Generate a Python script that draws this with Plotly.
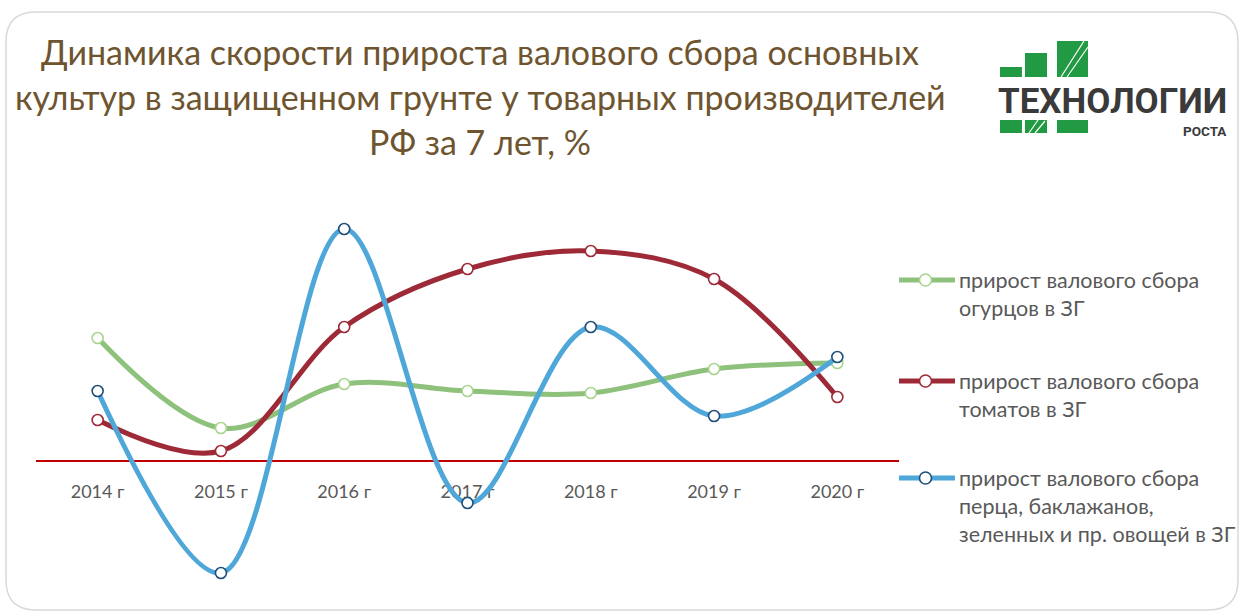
import plotly.graph_objects as go

# ---- data ----
years = ["2014 г", "2015 г", "2016 г", "2017 г", "2018 г", "2019 г", "2020 г"]
cucumbers = [12.3, 3.3, 7.7, 7.0, 6.8, 9.2, 9.8]
tomatoes = [4.1, 1.0, 13.4, 19.2, 21.0, 18.2, 6.4]
other_veg = [7.0, -11.2, 23.2, -4.2, 13.4, 4.5, 10.4]
names = [
    "прирост валового сбора<br>огурцов в ЗГ",
    "прирост валового сбора<br>томатов в ЗГ",
    "прирост валового сбора<br>перца, баклажанов,<br>зеленных и пр. овощей в ЗГ",
]
title_lines = [
    "Динамика скорости прироста валового сбора основных",
    "культур в защищенном грунте у товарных производителей",
    "РФ за 7 лет, %",
]

line_colors = ["#8DC17C", "#9E2A37", "#4FA7D9"]
marker_colors = ["#A9D48F", "#9E2A37", "#1F4E79"]
FONT = "Lato, Noto Sans, sans-serif"
TEXT_GREY = "#595959"

W, H = 1243, 612
L, R, T, B = 36, 344, 200, 12
pw, ph = W - L - R, H - T - B


def pxx(x):
    return (x - L) / pw


def pxy(y):
    return (H - B - y) / ph


def f(v):
    return f"{v:.6f}"


fig = go.Figure()
for vals, nm, lc, mc in zip([cucumbers, tomatoes, other_veg], names, line_colors, marker_colors):
    fig.add_trace(go.Scatter(
        x=years, y=vals, name=nm,
        mode="lines+markers",
        line=dict(color=lc, width=5, shape="spline", smoothing=1.0),
        marker=dict(size=11, color="white", line=dict(color=mc, width=1.6)),
        hoverinfo="skip", showlegend=False,
    ))

shapes = []
# rounded border
x0, x1, y0, y1 = pxx(6), pxx(1238), pxy(12), pxy(610)
rx, ry = 30 / pw, 30 / ph
path = (f"M{f(x0+rx)},{f(y0)} L{f(x1-rx)},{f(y0)} Q{f(x1)},{f(y0)} {f(x1)},{f(y0-ry)} "
        f"L{f(x1)},{f(y1+ry)} Q{f(x1)},{f(y1)} {f(x1-rx)},{f(y1)} L{f(x0+rx)},{f(y1)} "
        f"Q{f(x0)},{f(y1)} {f(x0)},{f(y1+ry)} L{f(x0)},{f(y0-ry)} Q{f(x0)},{f(y0)} {f(x0+rx)},{f(y0)} Z")
shapes.append(dict(type="path", path=path, xref="paper", yref="paper",
                   line=dict(color="#D9D9D9", width=1.5), layer="below"))

# logo squares
green = "#229A43"
for (a, b, c, d) in [(1000, 67, 1022, 77), (1025, 53, 1047, 77), (1057, 41, 1088, 77),
                     (1000, 120, 1022, 133), (1025, 120, 1047, 133), (1057, 120, 1088, 133)]:
    shapes.append(dict(type="rect", xref="paper", yref="paper",
                       x0=pxx(a), x1=pxx(c), y0=pxy(d), y1=pxy(b),
                       fillcolor=green, line=dict(width=0)))
for (a, b, c, d) in [(1061, 77, 1084, 41), (1067, 77, 1088, 47), (1029, 133, 1038, 120), (1035, 133, 1045, 121)]:
    shapes.append(dict(type="line", xref="paper", yref="paper",
                       x0=pxx(a), y0=pxy(b), x1=pxx(c), y1=pxy(d),
                       line=dict(color="white", width=1.2)))

annotations = []
for i, t in enumerate(title_lines):
    annotations.append(dict(text=t, xref="paper", yref="paper", x=pxx(480), y=pxy([52, 97, 141][i]),
                            xanchor="center", yanchor="middle", showarrow=False,
                            font=dict(family=FONT, size=34, color="#6E552F")))
annotations.append(dict(text="ТЕХНОЛОГИИ", xref="paper", yref="paper", x=pxx(1229), y=pxy(102),
                        xanchor="right", yanchor="middle", showarrow=False,
                        font=dict(family="Roboto", size=35, color="#3A3A3A", weight="bold")))
annotations.append(dict(text="РОСТА", xref="paper", yref="paper", x=pxx(1229), y=pxy(131),
                        xanchor="right", yanchor="middle", showarrow=False,
                        font=dict(family="Roboto", size=13.5, color="#3A3A3A", weight="bold")))

# legend (drawn manually so it does not shrink the plot area)
legend_tops = [280, 381, 478]
for nm, lc, mc, yt in zip(names, line_colors, marker_colors, legend_tops):
    shapes.append(dict(type="line", xref="paper", yref="paper",
                       x0=pxx(899), x1=pxx(955), y0=pxy(yt), y1=pxy(yt),
                       line=dict(color=lc, width=5)))
    shapes.append(dict(type="circle", xref="paper", yref="paper",
                       x0=pxx(919.5), x1=pxx(931.5), y0=pxy(yt + 6), y1=pxy(yt - 6),
                       fillcolor="white", line=dict(color=mc, width=1.6)))
    annotations.append(dict(text=nm, xref="paper", yref="paper", x=pxx(957), y=pxy(yt - 15),
                            xanchor="left", yanchor="top", align="left", showarrow=False,
                            font=dict(family=FONT, size=21.5, color=TEXT_GREY)))

fig.update_layout(
    width=W, height=H,
    margin=dict(l=L, r=R, t=T, b=B, autoexpand=False),
    paper_bgcolor="white", plot_bgcolor="white",
    showlegend=False,
    xaxis=dict(anchor="free", position=pxy(461), showline=True, linecolor="#C00000", linewidth=2,
               showgrid=False, zeroline=False, ticks="outside", ticklen=14,
               tickcolor="rgba(0,0,0,0)", layer="below traces",
               tickfont=dict(family=FONT, size=18, color=TEXT_GREY),
               range=[-0.5, 6.5]),
    yaxis=dict(range=[-13.9, 26.1], visible=False, showgrid=False, zeroline=False),
    shapes=shapes,
    annotations=annotations,
)

fig.write_html("out.html", config={"displayModeBar": False},
               post_script="document.body.style.margin='0';document.body.style.overflow='hidden';")
